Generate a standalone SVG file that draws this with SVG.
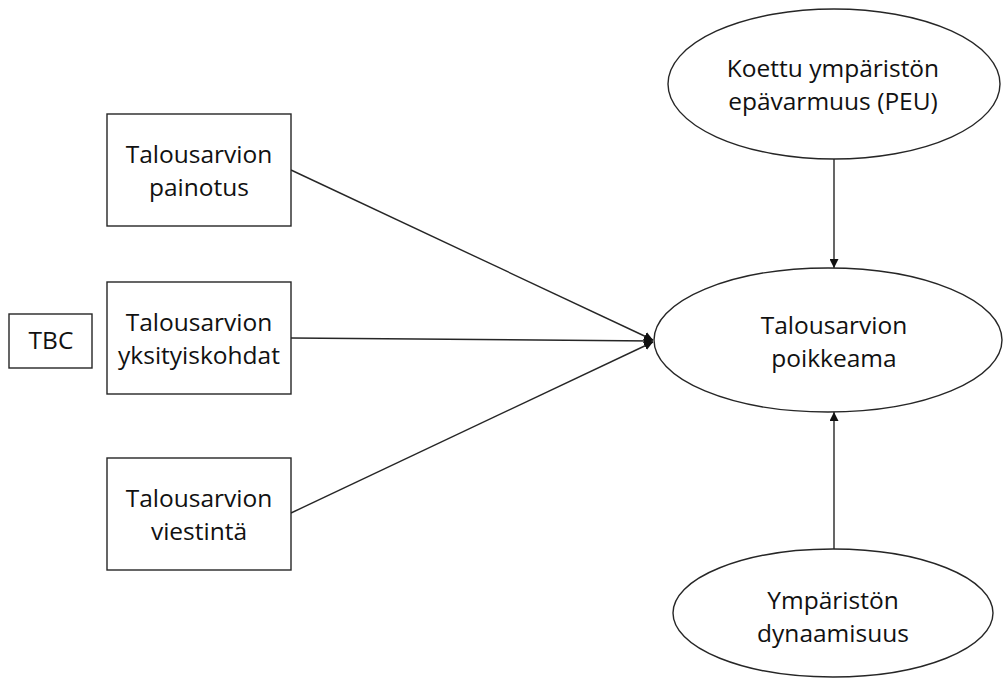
<svg xmlns="http://www.w3.org/2000/svg" width="1003" height="678" viewBox="0 0 1003 678">
  <style>
    .shape { fill: #ffffff; stroke: #262626; stroke-width: 1.4; }
    .conn { stroke: #262626; stroke-width: 1.4; fill: none; }
    .lbl { font-family: "Open Sans", "Liberation Sans", sans-serif; font-size: 24.5px; fill: #111111; text-anchor: middle; }
  </style>
  <defs>
    <marker id="arr" viewBox="0 0 10 10" refX="10" refY="5" markerWidth="9" markerHeight="9" markerUnits="userSpaceOnUse" orient="auto">
      <path d="M0,0 L10,5 L0,10 z" fill="#111111"/>
    </marker>
  </defs>
  <rect width="1003" height="678" fill="#ffffff"/>
  <g id="connectors">
    <line class="conn" x1="291" y1="170" x2="653" y2="340" marker-end="url(#arr)"/>
    <line class="conn" x1="291" y1="338" x2="653" y2="341" marker-end="url(#arr)"/>
    <line class="conn" x1="291" y1="513" x2="653" y2="342" marker-end="url(#arr)"/>
    <line class="conn" x1="834" y1="159" x2="834" y2="268" marker-end="url(#arr)"/>
    <line class="conn" x1="834" y1="549" x2="834" y2="412" marker-end="url(#arr)"/>
  </g>
  <g id="painotus">
    <rect class="shape" x="107" y="114" width="184" height="112"/>
    <text class="lbl" x="199" y="163">Talousarvion</text>
    <text class="lbl" x="199" y="196">painotus</text>
  </g>
  <g id="yksityiskohdat">
    <rect class="shape" x="107" y="282" width="184" height="112"/>
    <text class="lbl" x="199" y="331">Talousarvion</text>
    <text class="lbl" x="199" y="364">yksityiskohdat</text>
  </g>
  <g id="viestinta">
    <rect class="shape" x="107" y="458" width="184" height="112"/>
    <text class="lbl" x="199" y="507">Talousarvion</text>
    <text class="lbl" x="199" y="540">viestintä</text>
  </g>
  <g id="tbc">
    <rect class="shape" x="9" y="314" width="83" height="54"/>
    <text class="lbl" x="51" y="349">TBC</text>
  </g>
  <g id="peu">
    <ellipse class="shape" cx="834" cy="84" rx="166" ry="75"/>
    <text class="lbl" x="833" y="77">Koettu ympäristön</text>
    <text class="lbl" x="833" y="110">epävarmuus (PEU)</text>
  </g>
  <g id="poikkeama">
    <ellipse class="shape" cx="828" cy="340" rx="174" ry="72"/>
    <text class="lbl" x="834" y="334">Talousarvion</text>
    <text class="lbl" x="834" y="367">poikkeama</text>
  </g>
  <g id="dynaamisuus">
    <ellipse class="shape" cx="833" cy="613" rx="160" ry="64"/>
    <text class="lbl" x="833" y="609">Ympäristön</text>
    <text class="lbl" x="833" y="642">dynaamisuus</text>
  </g>
</svg>
